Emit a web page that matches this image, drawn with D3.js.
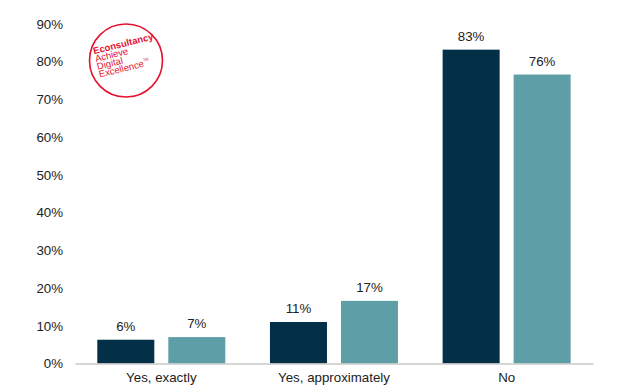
<!DOCTYPE html>
<html><head><meta charset="utf-8">
<script src="https://cdn.jsdelivr.net/npm/d3@7"></script>
<style>body{margin:0;background:#fff}svg{display:block;font-family:"Liberation Sans",Arial,sans-serif}</style>
</head><body><svg id="c" width="644" height="390"></svg>
<script>
const categories = ["Yes, exactly", "Yes, approximately", "No"];
const series1 = [6.3, 11.0, 83.2];
const series2 = [7.0, 16.6, 76.6];
const labels1 = ["6%", "11%", "83%"];
const labels2 = ["7%", "17%", "76%"];
const yTicks = [0,10,20,30,40,50,60,70,80,90];
const colors = ["#033047", "#5e9fa7"];

const svg = d3.select("#c");
const x0 = 75, x1 = 593, yBase = 363.5, yTop = 24;
const x = d3.scaleBand().domain(categories).range([x0, x1]).paddingInner(0).paddingOuter(0);
const y = d3.scaleLinear().domain([0, 90]).range([yBase, yTop]);
const sub = d3.scaleBand().domain([0,1]).range([22.3, 150.3]).paddingInner(0.197).paddingOuter(0);
const FS = 13.3;

// y axis labels
const yAxis = d3.axisLeft(y).tickValues(yTicks).tickFormat(d => d + "%").tickSize(0).tickPadding(0);
const ya = svg.append("g").attr("transform", `translate(63,0)`).call(yAxis);
ya.select(".domain").remove();
ya.selectAll("text").attr("font-size", FS).attr("fill", "#222").attr("font-family", "Liberation Sans, Arial, sans-serif");

const groups = svg.append("g").selectAll("g").data(categories).join("g")
  .attr("transform", d => `translate(${x(d)},0)`);
[series1, series2].forEach((s, si) => {
  const lab = si === 0 ? labels1 : labels2;
  groups.append("rect")
    .attr("x", sub(si)).attr("width", sub.bandwidth())
    .attr("y", (d, i) => y(s[i])).attr("height", (d, i) => yBase - y(s[i]))
    .attr("fill", colors[si]);
  groups.append("text")
    .attr("x", sub(si) + sub.bandwidth() / 2)
    .attr("y", (d, i) => y(s[i]) - 9)
    .attr("text-anchor", "middle").attr("font-size", FS).attr("fill", "#222")
    .text((d, i) => lab[i]);
});

// x axis
const xAxis = d3.axisBottom(x).tickSize(0).tickPadding(9);
const xa = svg.append("g").attr("transform", `translate(0,${yBase})`).call(xAxis);
xa.select(".domain").attr("stroke", "#c8c8c8").attr("stroke-width", 1.5);
xa.selectAll("text").attr("font-size", FS).attr("fill", "#222").attr("font-family", "Liberation Sans, Arial, sans-serif");

// logo
svg.append("circle").attr("cx", 126).attr("cy", 60.5).attr("r", 36.5)
  .attr("fill", "none").attr("stroke", "#e5112e").attr("stroke-width", 1.6);
const lt = svg.append("g").attr("transform", "translate(94,54.3) rotate(-14)").attr("fill", "#e5112e");
lt.append("text").attr("x", 0).attr("y", 0).attr("font-size", 9.5).attr("font-weight", "bold").text("Econsultancy");
lt.append("text").attr("x", 0).attr("y", 8).attr("font-size", 9.5).text("Achieve");
lt.append("text").attr("x", 0).attr("y", 16).attr("font-size", 9.5).text("Digital");
const ex = lt.append("text").attr("x", 0).attr("y", 24).attr("font-size", 9.5).text("Excellence");
ex.append("tspan").attr("font-size", 4).attr("dy", -5).text("TM");
</script></body></html>
